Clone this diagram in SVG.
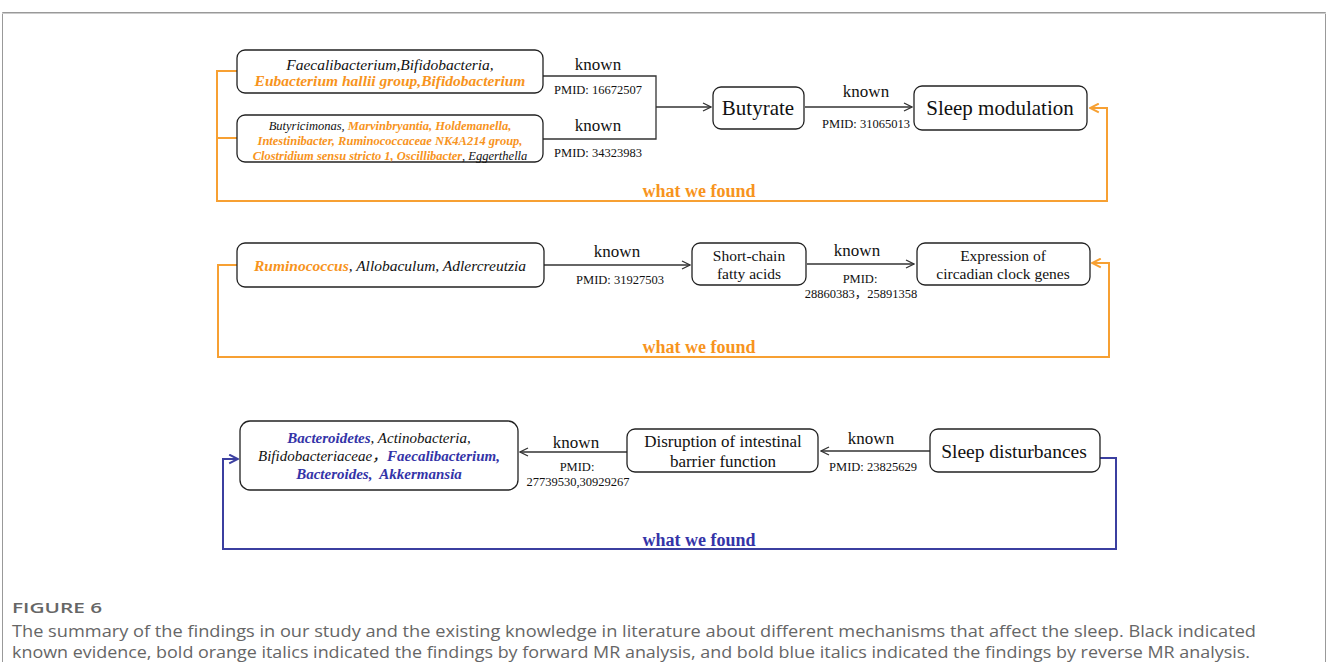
<svg xmlns="http://www.w3.org/2000/svg" width="1328" height="662" viewBox="0 0 1328 662">
<defs>
<style>
.box{fill:#fff;stroke:#222;stroke-width:1.3}
.t{font-family:"Liberation Serif","Times New Roman","Noto Sans CJK SC",serif;fill:#111}
.k{font-size:17px;text-anchor:middle}
.p{font-size:12.5px;text-anchor:middle}
.big{font-size:21px;text-anchor:middle}
.mid{font-size:15.5px;text-anchor:middle}
.it{font-style:italic}
.ob{font-style:italic;font-weight:bold;fill:#F7941D}
.bb{font-style:italic;font-weight:bold;fill:#3434A8}
.gl{fill:none;stroke:#333;stroke-width:1.3}
.ol{fill:none;stroke:#F7A032;stroke-width:2}
.bl{fill:none;stroke:#3B3FA0;stroke-width:2}
.wf{font-family:"Liberation Serif","Times New Roman",serif;font-weight:bold;font-size:18px;text-anchor:middle}
.cap{font-family:"Open Sans","Noto Sans",sans-serif;fill:#666}
</style>
<marker id="ag" viewBox="0 0 10 10" refX="9" refY="5" markerWidth="10" markerHeight="10" markerUnits="userSpaceOnUse" orient="auto"><path d="M1,1 L9,5 L1,9" fill="none" stroke="#333" stroke-width="1.3"/></marker>
<marker id="ao" viewBox="0 0 10 10" refX="9" refY="5" markerWidth="11" markerHeight="11" markerUnits="userSpaceOnUse" orient="auto"><path d="M1,1 L9,5 L1,9" fill="none" stroke="#F7A032" stroke-width="1.8"/></marker>
<marker id="ab" viewBox="0 0 10 10" refX="9" refY="5" markerWidth="11" markerHeight="11" markerUnits="userSpaceOnUse" orient="auto"><path d="M1,1 L9,5 L1,9" fill="none" stroke="#3B3FA0" stroke-width="1.8"/></marker>
</defs>
<rect width="1328" height="662" fill="#fff"/>
<path d="M2.5,680 V12.5 H1325.5 V680" fill="none" stroke="#999" stroke-width="1"/>
<line x1="2" y1="13.5" x2="1326" y2="13.5" stroke="#ccc" stroke-width="1"/>

<g id="connectors">
<path class="gl" d="M543,76 H656 V139 H543"/>
<path class="gl" d="M656,107 H711" marker-end="url(#ag)"/>
<path class="gl" d="M805,107 H912" marker-end="url(#ag)"/>
<path class="ol" d="M237,71 H217 V201 H1107 V108 H1090" marker-end="url(#ao)"/>
<path class="ol" d="M217,138 H237"/>
<path class="gl" d="M544,265 H690" marker-end="url(#ag)"/>
<path class="gl" d="M807,264 H914" marker-end="url(#ag)"/>
<path class="ol" d="M237,265 H218 V357 H1109 V263 H1092" marker-end="url(#ao)"/>
<path class="gl" d="M930,451 H821" marker-end="url(#ag)"/>
<path class="gl" d="M627,452 H520" marker-end="url(#ag)"/>
<path class="bl" d="M1100,458 H1116 V549 H223 V459 H238" marker-end="url(#ab)"/>
</g>

<g id="labels">
<text class="t k" x="598" y="70">known</text>
<text class="t p" x="598" y="94">PMID: 16672507</text>
<text class="t k" x="598" y="131">known</text>
<text class="t p" x="598" y="157">PMID: 34323983</text>
<text class="t k" x="866" y="97">known</text>
<text class="t p" x="866" y="128">PMID: 31065013</text>
<text class="wf" x="699" y="197" fill="#F7941D">what we found</text>
<text class="t k" x="617" y="257">known</text>
<text class="t p" x="620" y="284">PMID: 31927503</text>
<text class="t k" x="857" y="256">known</text>
<text class="t p" x="860" y="283">PMID:</text>
<text class="t p" x="861" y="298">28860383，25891358</text>
<text class="wf" x="699" y="353" fill="#F7941D">what we found</text>
<text class="t k" x="576" y="448">known</text>
<text class="t p" x="577" y="471">PMID:</text>
<text class="t p" x="578" y="486">27739530,30929267</text>
<text class="t k" x="871" y="444">known</text>
<text class="t p" x="873" y="471">PMID: 23825629</text>
<text class="wf" x="699" y="546" fill="#3434A8">what we found</text>
</g>

<g id="n-top1">
<rect class="box" x="237" y="50" width="306" height="43" rx="8"/>
<text class="t mid it" x="390" y="70" font-size="14.5">Faecalibacterium,Bifidobacteria,</text>
<text class="t mid ob" x="390" y="86" font-size="14.5">Eubacterium hallii group,Bifidobacterium</text>
</g>
<g id="n-top2">
<rect class="box" x="237" y="115" width="306" height="47" rx="8"/>
<text class="t it" x="390" y="130" font-size="12.5" text-anchor="middle"><tspan>Butyricimonas, </tspan><tspan class="ob">Marvinbryantia, Holdemanella,</tspan></text>
<text class="t ob" x="390" y="145" font-size="12.5" text-anchor="middle">Intestinibacter, Ruminococcaceae NK4A214 group,</text>
<text class="t it" x="390" y="160" font-size="12.5" text-anchor="middle"><tspan class="ob">Clostridium sensu stricto 1, Oscillibacter</tspan><tspan>, Eggerthella</tspan></text>
</g>
<g id="n-butyrate">
<rect class="box" x="713" y="87" width="91" height="42" rx="8"/>
<text class="t big" x="758" y="115">Butyrate</text>
</g>
<g id="n-sleepmod">
<rect class="box" x="914" y="86" width="173" height="44" rx="8"/>
<text class="t big" x="1000" y="115">Sleep modulation</text>
</g>
<g id="n-rumino">
<rect class="box" x="237" y="243" width="307" height="44" rx="8"/>
<text class="t it" x="390" y="271" font-size="15.5" text-anchor="middle"><tspan class="ob">Ruminococcus</tspan><tspan>, Allobaculum, Adlercreutzia</tspan></text>
</g>
<g id="n-scfa">
<rect class="box" x="692" y="243" width="114" height="42" rx="8"/>
<text class="t mid" x="749" y="261">Short-chain</text>
<text class="t mid" x="749" y="279">fatty acids</text>
</g>
<g id="n-expr">
<rect class="box" x="917" y="243" width="173" height="42" rx="8"/>
<text class="t mid" x="1003" y="261">Expression of</text>
<text class="t mid" x="1003" y="279">circadian clock genes</text>
</g>
<g id="n-bact">
<rect class="box" x="240" y="421" width="278" height="69" rx="10"/>
<text class="t it" x="379" y="443" font-size="15" text-anchor="middle"><tspan class="bb">Bacteroidetes</tspan><tspan>, Actinobacteria,</tspan></text>
<text class="t it" x="379" y="461" font-size="15" text-anchor="middle"><tspan>Bifidobacteriaceae，</tspan><tspan class="bb">Faecalibacterium,</tspan></text>
<text class="t bb" x="379" y="479" font-size="15" text-anchor="middle">Bacteroides,&#160; Akkermansia</text>
</g>
<g id="n-disrupt">
<rect class="box" x="627" y="429" width="191" height="43" rx="8"/>
<text class="t" x="723" y="447" font-size="17" text-anchor="middle">Disruption of intestinal</text>
<text class="t" x="723" y="467" font-size="17" text-anchor="middle">barrier function</text>
</g>
<g id="n-sleepdist">
<rect class="box" x="930" y="429" width="170" height="43" rx="8"/>
<text class="t" x="1014" y="458" font-size="19.5" text-anchor="middle">Sleep disturbances</text>
</g>

<g id="caption">
<text class="cap" x="12" y="613" font-size="13.5" font-weight="600" fill="#555" textLength="90" lengthAdjust="spacingAndGlyphs">FIGURE 6</text>
<text class="cap" x="12" y="637" font-size="17" textLength="1244" lengthAdjust="spacingAndGlyphs">The summary of the findings in our study and the existing knowledge in literature about different mechanisms that affect the sleep. Black indicated</text>
<text class="cap" x="12" y="658" font-size="17" textLength="1238" lengthAdjust="spacingAndGlyphs">known evidence, bold orange italics indicated the findings by forward MR analysis, and bold blue italics indicated the findings by reverse MR analysis.</text>
</g>
</svg>
